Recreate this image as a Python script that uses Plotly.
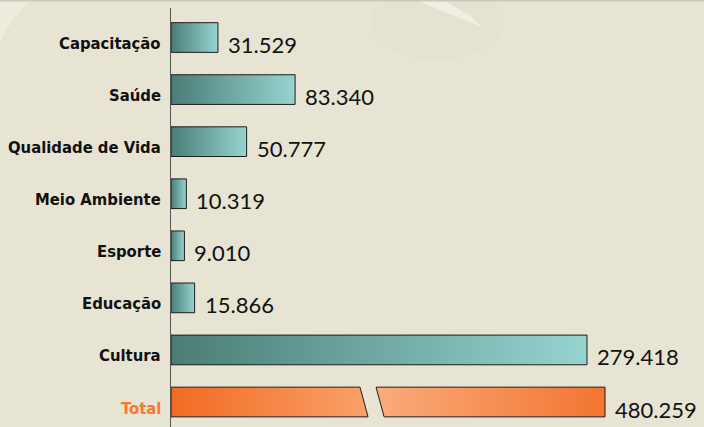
import plotly.graph_objects as go

categories = ["Capacitação", "Saúde", "Qualidade de Vida", "Meio Ambiente",
              "Esporte", "Educação", "Cultura"]
values = [31.529, 83.340, 50.777, 10.319, 9.010, 15.866, 279.418]
value_labels = ["31.529", "83.340", "50.777", "10.319", "9.010", "15.866", "279.418"]
total_label_text = "Total"
total_value = 480.259
total_value_label = "480.259"

# style constants
BG = "#e8e4d3"
H = 0.285                     # half bar height (row units)
TEAL = [[0, "#4a7d76"], [1, "#96d4d0"]]
OR_LEFT = [[0, "#f26a22"], [1, "#f8a268"]]
OR_RIGHT = [[0, "#f9ac7b"], [1, "#f37530"]]
BREAK_FRAC, BREAK_GAP, BREAK_SLANT = 0.4355, 0.037, 0.0185
LABEL_FONT = "DejaVu Sans Condensed, Liberation Sans Narrow, sans-serif"
VALUE_FONT = "Lato, Open Sans, sans-serif"
W, HGT, ML, MT = 704, 427, 171, 8

fig = go.Figure()

for i, (c, v) in enumerate(zip(categories, values)):
    fig.add_trace(go.Scatter(
        x=[0, v, v, 0, 0], y=[i - H, i - H, i + H, i + H, i - H],
        mode="lines", fill="toself", line=dict(color="#1c1c1c", width=1),
        fillgradient=dict(type="horizontal", colorscale=TEAL),
        hoverinfo="skip", showlegend=False, xaxis="x", yaxis="y"))

ti = len(categories)
b1 = total_value * BREAK_FRAC
s = total_value * BREAK_SLANT
b2 = b1 + total_value * BREAK_GAP
fig.add_trace(go.Scatter(
    x=[0, b1, b1 + s, 0, 0], y=[ti - H, ti - H, ti + H, ti + H, ti - H],
    mode="lines", fill="toself", line=dict(color="#1c1c1c", width=1),
    fillgradient=dict(type="horizontal", colorscale=OR_LEFT),
    hoverinfo="skip", showlegend=False, xaxis="x2", yaxis="y"))
fig.add_trace(go.Scatter(
    x=[b2, total_value, total_value, b2 + s, b2],
    y=[ti - H, ti - H, ti + H, ti + H, ti - H],
    mode="lines", fill="toself", line=dict(color="#1c1c1c", width=1),
    fillgradient=dict(type="horizontal", colorscale=OR_RIGHT),
    hoverinfo="skip", showlegend=False, xaxis="x2", yaxis="y"))

ann = []
for i, (c, lab, v) in enumerate(zip(categories, value_labels, values)):
    ann.append(dict(x=0, xref="paper", y=i, yref="y", text="<b>%s</b>" % c,
                    xanchor="right", yanchor="middle", xshift=-8, yshift=-6,
                    showarrow=False, font=dict(family=LABEL_FONT, size=16.5, color="#111")))
    ann.append(dict(x=v, xref="x", y=i, yref="y", text=lab,
                    xanchor="left", yanchor="middle", xshift=8, yshift=-7,
                    showarrow=False, font=dict(family=VALUE_FONT, size=22, color="#111")))
ann.append(dict(x=0, xref="paper", y=ti, yref="y", text="<b>%s</b>" % total_label_text,
                xanchor="right", yanchor="middle", xshift=-8, yshift=-6,
                showarrow=False, font=dict(family=LABEL_FONT, size=16.5, color="#f47a30")))
ann.append(dict(x=total_value, xref="x2", y=ti, yref="y", text=total_value_label,
                xanchor="left", yanchor="middle", xshift=8, yshift=-7,
                showarrow=False, font=dict(family=VALUE_FONT, size=22, color="#111")))


def px(xp, yp):
    """page pixel -> paper coordinates"""
    return (xp - ML) / (W - ML), 1 - (yp - MT) / (HGT - MT)


def path(points):
    pts = [px(a, b) for a, b in points]
    return "M " + " L ".join("%.4f,%.4f" % p for p in pts) + " Z"


decor = [
    dict(type="path", xref="paper", yref="paper", layer="below",
         path=path([(0, 0), (30, 0), (14, 18), (4, 34), (0, 44)]),
         fillcolor="rgba(255,255,250,0.3)", line=dict(width=0)),
    dict(type="path", xref="paper", yref="paper", layer="below",
         path=path([(418, 1), (445, 1), (470, 16), (482, 27), (450, 14)]),
         fillcolor="rgba(255,255,250,0.5)", line=dict(width=0)),
    dict(type="circle", xref="paper", yref="paper", layer="below",
         x0=px(370, 0)[0], x1=px(505, 0)[0], y0=px(0, -15)[1], y1=px(0, 60)[1],
         fillcolor="rgba(200,198,180,0.05)", line=dict(width=0)),
    dict(type="line", xref="paper", yref="paper", x0=px(0, 0)[0], x1=1,
         y0=px(0, 0.5)[1], y1=px(0, 0.5)[1],
         line=dict(color="#c6c9bb", width=2)),
]

fig.update_layout(
    width=W, height=HGT,
    margin=dict(l=ML, r=0, t=MT, b=0),
    paper_bgcolor=BG, plot_bgcolor="rgba(0,0,0,0)",
    xaxis=dict(range=[0, 358.0], visible=False, fixedrange=True),
    xaxis2=dict(range=[0, 589.8], visible=False, overlaying="x", fixedrange=True),
    yaxis=dict(range=[ti + 0.48, -0.567], showticklabels=False, showgrid=False,
               zeroline=False, showline=True, linecolor="#555", linewidth=1,
               fixedrange=True),
    annotations=ann,
    shapes=decor,
)

fig.write_html("out.html", config={"displayModeBar": False},
               post_script="document.body.style.margin='0';"
                           "document.body.style.overflow='hidden';")
